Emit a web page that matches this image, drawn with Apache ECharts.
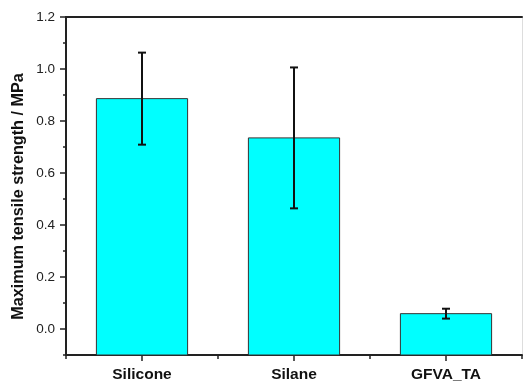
<!DOCTYPE html>
<html>
<head>
<meta charset="utf-8">
<script src="https://cdn.jsdelivr.net/npm/echarts@6/dist/echarts.min.js"></script>
<style>
html,body{margin:0;padding:0;background:#fff;}
#c{width:523px;height:384px;}
</style>
</head>
<body>
<div id="c"></div>
<script>
const categories = ['Silicone', 'Silane', 'GFVA_TA'];
const meanValues = [0.886, 0.735, 0.059];
const errorValues = [0.177, 0.271, 0.019];
const majorTicks = [0, 0.2, 0.4, 0.6, 0.8, 1.0, 1.2];
const minorTicks = [-0.1, 0.1, 0.3, 0.5, 0.7, 0.9, 1.1];
const yMin = -0.1;
const yMax = 1.2;
const yTitle = 'Maximum tensile strength / MPa';

const barData = meanValues.map((v, i) => [i, v]);
const errorData = meanValues.map((v, i) => [i, v - errorValues[i], v + errorValues[i]]);

const chart = echarts.init(document.getElementById('c'), null, {renderer: 'canvas'});
const font = 'Arial, "Liberation Sans", Helvetica, sans-serif';

chart.setOption({
  animation: false,
  backgroundColor: '#fff',
  grid: {left: 66, right: 1, top: 17, bottom: 29, containLabel: false},
  xAxis: [
    {
      type: 'category', data: categories, position: 'bottom',
      boundaryGap: true,
      axisLine: {show: true, onZero: false, lineStyle: {color: '#222', width: 2}},
      axisTick: {show: true, alignWithLabel: true, length: 6, lineStyle: {color: '#222', width: 1.5}},
      axisLabel: {fontFamily: font, fontWeight: 'bold', fontSize: 15.5, color: '#111', margin: 12},
      splitLine: {show: false}
    },
    {
      type: 'category', data: categories, position: 'bottom',
      boundaryGap: true,
      axisLine: {show: false, onZero: false},
      axisTick: {show: true, length: 4, lineStyle: {color: '#222', width: 1.5}},
      axisLabel: {show: false},
      splitLine: {show: false}
    },
    {
      type: 'category', data: categories, position: 'top',
      axisLine: {show: true, onZero: false, lineStyle: {color: '#222', width: 2}},
      axisTick: {show: false}, axisLabel: {show: false}, splitLine: {show: false}
    }
  ],
  yAxis: [
    {
      type: 'value', min: yMin, max: yMax, interval: 0.1, position: 'left',
      axisLine: {show: true, onZero: false, lineStyle: {color: '#222', width: 2}},
      axisTick: {show: true, length: 6, customValues: majorTicks, lineStyle: {color: '#222', width: 1.5}},
      axisLabel: {
        customValues: majorTicks, fontFamily: font, fontSize: 13.5, color: '#222', margin: 11,
        formatter: v => v.toFixed(1)
      },
      splitLine: {show: false}
    },
    {
      type: 'value', min: yMin, max: yMax, interval: 0.1, position: 'left',
      axisLine: {show: false, onZero: false},
      axisTick: {show: true, length: 3, customValues: minorTicks, lineStyle: {color: '#222', width: 1.5}},
      axisLabel: {show: false},
      splitLine: {show: false}
    },
    {
      type: 'value', min: yMin, max: yMax, position: 'right',
      axisLine: {show: true, onZero: false, lineStyle: {color: '#ddd', width: 1}},
      axisTick: {show: false}, axisLabel: {show: false}, splitLine: {show: false}
    }
  ],
  graphic: [{
    type: 'text',
    x: 18.5, y: 196.5, rotation: Math.PI / 2,
    style: {
      text: yTitle, fontFamily: font, fontWeight: 'bold', fontSize: 16.2,
      fill: '#111', align: 'center', verticalAlign: 'middle'
    }
  }],
  series: [
    {
      type: 'custom', data: barData, z: 5,
      renderItem: function (params, api) {
        const i = api.value(0);
        const top = api.coord([i, api.value(1)]);
        const base = api.coord([i, yMin]);
        const w = api.size([1, 0])[0] * 0.6;
        return {
          type: 'rect',
          shape: {x: top[0] - w / 2, y: top[1], width: w, height: base[1] - top[1]},
          style: {fill: '#00FFFF', stroke: '#333', lineWidth: 1}
        };
      }
    },
    {
      type: 'custom', data: errorData, z: 10,
      renderItem: function (params, api) {
        const x = api.value(0);
        const lo = api.coord([x, api.value(1)]);
        const hi = api.coord([x, api.value(2)]);
        const hw = 4;
        const st = {stroke: '#111', lineWidth: 2};
        return {
          type: 'group',
          children: [
            {type: 'line', shape: {x1: lo[0], y1: lo[1], x2: hi[0], y2: hi[1]}, style: st},
            {type: 'line', shape: {x1: lo[0] - hw, y1: lo[1], x2: lo[0] + hw, y2: lo[1]}, style: st},
            {type: 'line', shape: {x1: hi[0] - hw, y1: hi[1], x2: hi[0] + hw, y2: hi[1]}, style: st}
          ]
        };
      }
    }
  ]
});
</script>
</body>
</html>
